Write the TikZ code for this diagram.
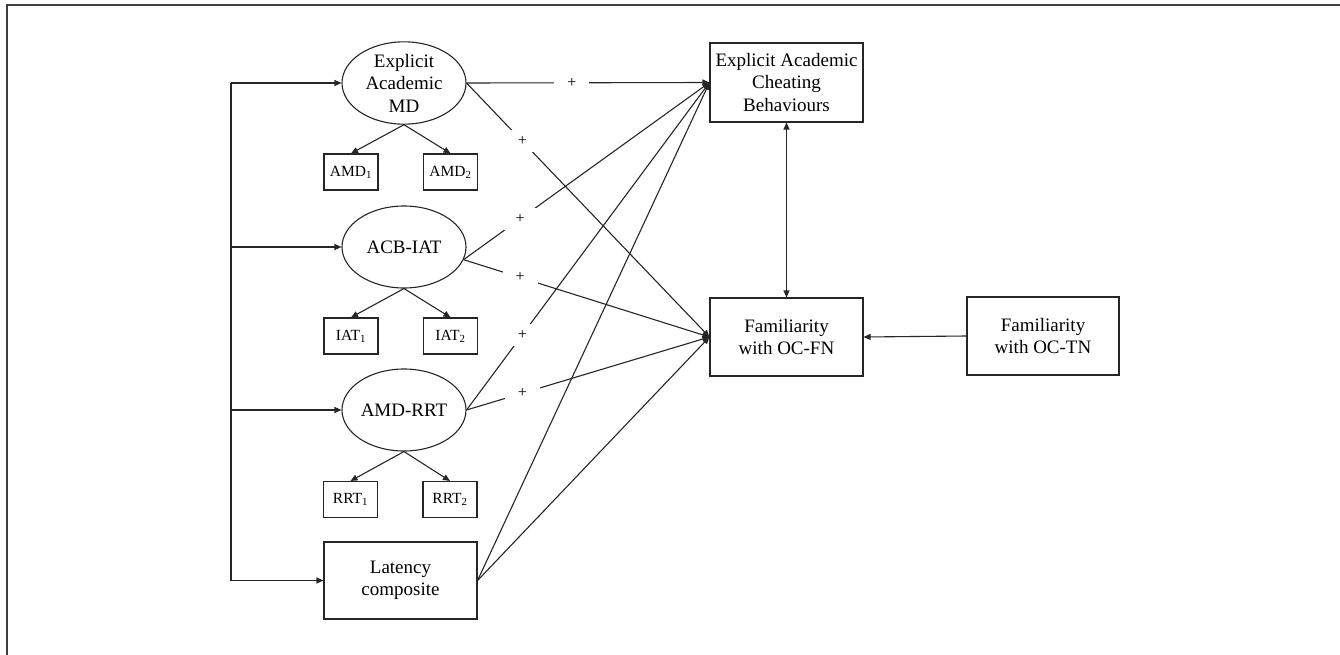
\documentclass[tikz,border=0pt]{standalone}
\usepackage{fontspec}
\setmainfont{Liberation Serif}
\usetikzlibrary{arrows.meta,shapes.geometric}
\begin{document}
\begin{tikzpicture}[x=1pt,y=-1pt,
  conn/.style={line width=1.1pt,draw=black!85},
  arr/.style={conn,-{Triangle[length=7pt,width=6pt]}},
  darr/.style={conn,{Triangle[length=7pt,width=6pt]}-{Triangle[length=7pt,width=6pt]}},
  ell/.style={ellipse,draw=black!85,line width=1.1pt,minimum width=124pt,minimum height=82pt,inner sep=0pt,align=center,font=\fontsize{19}{22.5}\selectfont},
  bigbox/.style={rectangle,draw=black!85,line width=1.1pt,minimum width=153pt,minimum height=78pt,inner sep=0pt,align=center,font=\fontsize{19}{22.5}\selectfont},
  smallbox/.style={rectangle,draw=black!85,line width=1.1pt,minimum width=54pt,minimum height=36pt,inner sep=0pt,font=\fontsize{15.5}{18}\selectfont},
  plus/.style={fill=white,minimum width=35pt,minimum height=22pt,inner sep=0pt,font=\fontsize{16}{18}\selectfont}
]
\useasboundingbox (0,0) rectangle (1340,655);
% frame
\draw[line width=1.6pt,draw=black!75] (7,656) -- (7,5) -- (1341,5);

% nodes
\node[ell] (md) at (404,83) {Explicit\\Academic\\MD};
\node[ell] (iat) at (404,247) {ACB-IAT};
\node[ell] (rrt) at (404,410) {AMD-RRT};
\node[smallbox] (amd1) at (351,172) {AMD\textsubscript{1}};
\node[smallbox] (amd2) at (450.5,172) {AMD\textsubscript{2}};
\node[smallbox] (iat1) at (351,336) {IAT\textsubscript{1}};
\node[smallbox] (iat2) at (450.5,336) {IAT\textsubscript{2}};
\node[smallbox] (rrt1) at (350.5,499.5) {RRT\textsubscript{1}};
\node[smallbox] (rrt2) at (450,499.5) {RRT\textsubscript{2}};
\node[bigbox,minimum height=77pt] (lat) at (400.5,580.5) {Latency\\composite};
\node[bigbox,minimum height=79pt] (cheat) at (786.5,82.5) {Explicit Academic\\Cheating\\Behaviours};
\node[bigbox] (ocfn) at (786.5,337) {Familiarity\\with OC-FN};
\node[bigbox,minimum width=152pt] (octn) at (1043,336) {Familiarity\\with OC-TN};

% trunk
\coordinate (t1) at (231,83);
\coordinate (t2) at (231,247);
\coordinate (t3) at (231,410);
\coordinate (t4) at (231,580.5);
\draw[conn] (t1) -- (t4);
\draw[arr] (t1) -- (md.west);
\draw[arr] (t2) -- (iat.west);
\draw[arr] (t3) -- (rrt.west);
\draw[arr] (t4) -- (lat.west);

% indicators
\draw[arr] (md.south) -- (amd1.north);
\draw[arr] (md.south) -- (amd2.north);
\draw[arr] (iat.south) -- (iat1.north);
\draw[arr] (iat.south) -- (iat2.north);
\draw[arr] (rrt.south) -- (rrt1.north);
\draw[arr] (rrt.south) -- (rrt2.north);

% paths to outcomes
\draw[arr] (md.east) -- node[plus,pos=0.434] (p1) {+} (cheat.west);
\draw[arr] (md.east) -- node[plus,pos=0.23] (p2) {+} (ocfn.west);
\draw[arr] (iat.-12) -- node[plus,pos=0.23] (p3) {+} (cheat.west);
\draw[arr] (iat.-12) -- node[plus,pos=0.23] (p4) {+} (ocfn.west);
\draw[arr] (rrt.east) -- node[plus,pos=0.23] (p5) {+} (cheat.west);
\draw[arr] (rrt.east) -- node[plus,pos=0.23] (p6) {+} (ocfn.west);
\draw[arr] (lat.east) -- (cheat.west);
\draw[arr] (lat.east) -- (ocfn.west);

\draw[darr] (cheat.south) -- (ocfn.north);
\draw[arr] (octn.west) -- (ocfn.east);
\end{tikzpicture}
\end{document}
